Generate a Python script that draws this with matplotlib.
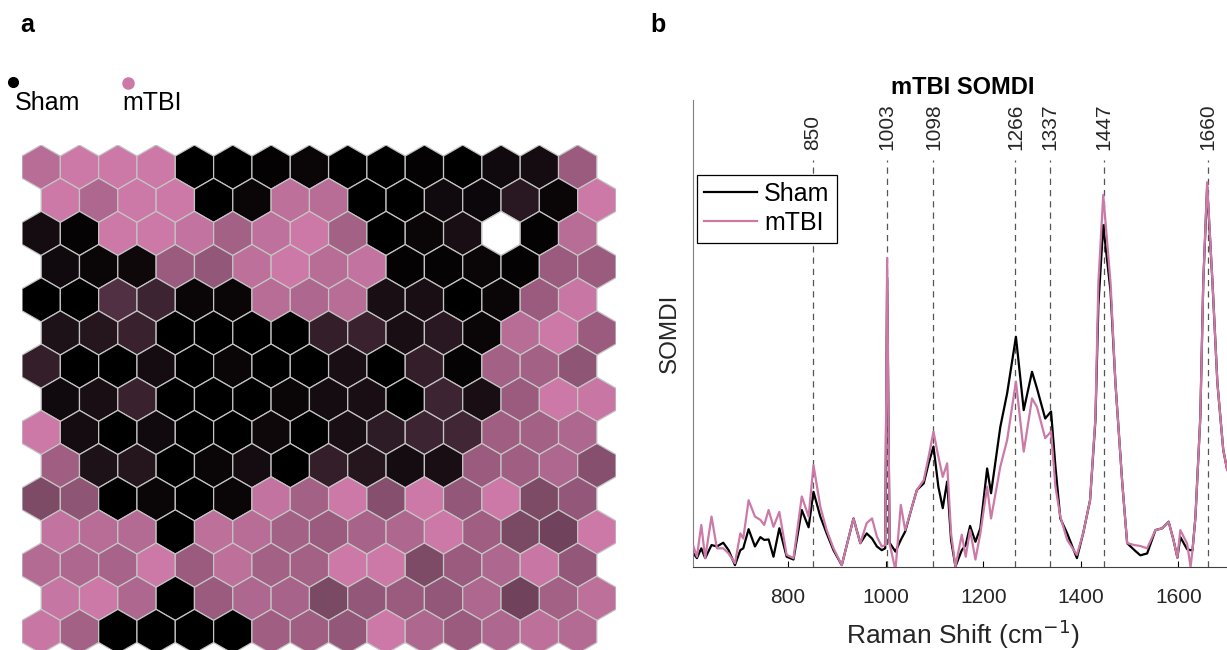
import numpy as np
import matplotlib
matplotlib.use("Agg")
import matplotlib.pyplot as plt
from matplotlib.colors import LinearSegmentedColormap
from matplotlib.patches import RegularPolygon

plt.rcParams['font.family'] = ['Liberation Sans', 'DejaVu Sans']

PINK = '#CC79A7'

# ---- SOM hex map: fraction of mTBI per node (0 = Sham/black, 1 = mTBI/pink)
nan = np.nan
som_rows = [
    [0.90, 1.00, 1.00, 1.00, 0.00, 0.00, 0.02, 0.05, 0.00, 0.00, 0.02, 0.00, 0.08, 0.10, 0.75],
    [1.00, 0.85, 1.00, 1.00, 0.00, 0.05, 0.92, 0.90, 0.00, 0.00, 0.08, 0.06, 0.20, 0.05, 1.00],
    [0.10, 0.03, 1.00, 1.00, 0.95, 0.80, 0.93, 1.00, 0.80, 0.00, 0.05, 0.12, nan, 0.02, 0.90],
    [0.08, 0.05, 0.07, 0.75, 0.72, 0.92, 1.00, 0.90, 0.95, 0.02, 0.03, 0.05, 0.02, 0.75, 0.75],
    [0.00, 0.00, 0.40, 0.30, 0.05, 0.05, 0.90, 0.85, 0.90, 0.12, 0.12, 0.00, 0.05, 0.75, 0.98],
    [0.15, 0.18, 0.28, 0.00, 0.00, 0.00, 0.00, 0.25, 0.28, 0.12, 0.20, 0.05, 0.90, 1.00, 0.75],
    [0.25, 0.00, 0.00, 0.10, 0.00, 0.05, 0.00, 0.00, 0.12, 0.00, 0.25, 0.03, 0.80, 0.80, 0.70],
    [0.08, 0.12, 0.28, 0.00, 0.00, 0.00, 0.05, 0.10, 0.12, 0.00, 0.30, 0.12, 0.75, 1.00, 0.98],
    [1.00, 0.10, 0.00, 0.08, 0.00, 0.00, 0.07, 0.00, 0.12, 0.22, 0.30, 0.32, 0.78, 0.80, 0.85],
    [0.78, 0.15, 0.18, 0.00, 0.05, 0.10, 0.00, 0.25, 0.18, 0.10, 0.12, 0.75, 0.78, 0.85, 0.65],
    [0.62, 0.70, 0.00, 0.05, 0.00, 0.05, 0.95, 0.80, 1.00, 0.65, 1.00, 0.72, 1.00, 0.62, 0.72],
    [0.95, 0.90, 0.88, 0.00, 0.92, 0.90, 0.80, 0.75, 0.82, 0.85, 1.00, 0.78, 0.60, 0.55, 1.00],
    [0.88, 0.85, 0.82, 1.00, 0.75, 0.92, 0.80, 0.80, 1.00, 1.00, 0.62, 0.75, 0.85, 0.98, 0.72],
    [0.97, 1.00, 0.85, 0.00, 0.75, 0.85, 0.82, 0.60, 0.72, 0.75, 0.72, 0.85, 0.55, 0.80, 0.92],
    [0.98, 0.80, 0.00, 0.00, 0.00, 0.00, 0.78, 0.78, 0.72, 1.00, 0.85, 0.75, 0.85, 0.92, 0.88],
]

# ---- SOMDI spectra
shift = [606, 613, 622, 630, 643, 654, 667, 678, 691, 702, 708, 719, 732, 743, 751,
         760, 770, 782, 797, 811, 828, 842, 852, 866, 879, 893, 910, 934, 948, 961,
         972, 982, 992, 999, 1003, 1008, 1020, 1031, 1040, 1054, 1064, 1078, 1088, 1098, 1108,
         1117, 1126, 1134, 1143, 1156, 1164, 1173, 1184, 1194, 1208, 1216, 1235, 1249, 1267, 1283,
         1300, 1310, 1327, 1339, 1348, 1358, 1372, 1392, 1405, 1419, 1430, 1436, 1446, 1461, 1471,
         1485, 1495, 1510, 1522, 1536, 1553, 1567, 1580, 1590, 1598, 1604, 1618, 1625, 1629, 1635,
         1645, 1651, 1659, 1670, 1680, 1692, 1700]
mtbi = [0.044, 0.022, 0.090, 0.019, 0.108, 0.040, 0.040, 0.029, 0.008, 0.072, 0.061, 0.143, 0.108, 0.101, 0.090,
        0.122, 0.086, 0.118, 0.026, 0.019, 0.151, 0.108, 0.218, 0.129, 0.079, 0.040, 0.004, 0.104, 0.051, 0.094,
        0.104, 0.065, 0.044, 0.047, 0.662, 0.050, -0.006, 0.133, 0.079, 0.129, 0.165, 0.186, 0.236, 0.290, 0.236,
        0.193, 0.222, 0.072, 0.001, 0.069, 0.022, 0.079, 0.016, 0.072, 0.172, 0.104, 0.215, 0.272, 0.397, 0.247,
        0.361, 0.343, 0.276, 0.290, 0.172, 0.108, 0.058, 0.026, 0.073, 0.143, 0.321, 0.608, 0.797, 0.608, 0.394,
        0.180, 0.051, 0.047, 0.045, 0.040, 0.079, 0.083, 0.097, 0.058, 0.020, 0.079, 0.050, 0.000, 0.036, 0.107,
        0.321, 0.608, 0.824, 0.608, 0.394, 0.251, 0.208]
sham = [0.029, 0.019, 0.040, 0.019, 0.047, 0.044, 0.052, 0.036, 0.004, 0.036, 0.040, 0.081, 0.044, 0.064, 0.058,
        0.059, 0.022, 0.083, 0.022, 0.016, 0.122, 0.085, 0.161, 0.108, 0.072, 0.036, 0.004, 0.104, 0.051, 0.072,
        0.061, 0.044, 0.036, 0.040, 0.620, 0.052, 0.033, 0.058, 0.076, 0.129, 0.165, 0.179, 0.222, 0.258, 0.172,
        0.126, 0.183, 0.058, 0.001, 0.036, 0.047, 0.088, 0.054, 0.083, 0.211, 0.158, 0.300, 0.372, 0.493, 0.336,
        0.418, 0.383, 0.318, 0.333, 0.215, 0.104, 0.072, 0.019, 0.073, 0.143, 0.315, 0.560, 0.732, 0.590, 0.394,
        0.180, 0.051, 0.036, 0.025, 0.029, 0.079, 0.083, 0.097, 0.058, 0.020, 0.064, 0.038, 0.036, 0.036, 0.107,
        0.321, 0.608, 0.815, 0.608, 0.394, 0.251, 0.208]
peaks = [850, 1003, 1098, 1266, 1337, 1447, 1660]

W, H = 1227, 650
fig = plt.figure(figsize=(W / 100, H / 100), dpi=100)

# ---------------- panel a: hex map
cmap = LinearSegmentedColormap.from_list('sham_mtbi', ['#000000', PINK])
ax = fig.add_axes([22 / W, 0, 594 / W, 505 / H])
r_hex = 1 / np.sqrt(3)
for r, row in enumerate(som_rows):
    for c, v in enumerate(row):
        cx = c + 0.5 * (r % 2)
        cy = r * np.sqrt(3) / 2
        face = 'white' if np.isnan(v) else cmap(v)
        ax.add_patch(RegularPolygon((cx, cy), 6, radius=r_hex, orientation=0,
                                    facecolor=face, edgecolor='#c4c4c4', linewidth=0.9))
ax.set_xlim(-0.5, 15.0)
ax.set_ylim(-r_hex + 505 / 38.3, -r_hex)
ax.axis('off')

fig.text(20 / W, 1 - 25 / H, 'a', fontsize=18, fontweight='bold', va='center')
fig.text(650 / W, 1 - 25 / H, 'b', fontsize=18, fontweight='bold', va='center')

# legend for the map
fig.lines.append(plt.Line2D([13 / W], [1 - 82 / H], marker='o', color='black',
                            markersize=7, transform=fig.transFigure))
fig.lines.append(plt.Line2D([128 / W], [1 - 83 / H], marker='o', color=PINK,
                            markersize=8, transform=fig.transFigure))
fig.text(15 / W, 1 - 103 / H, 'Sham', fontsize=18, va='center')
fig.text(122 / W, 1 - 103 / H, 'mTBI', fontsize=18, va='center')

# ---------------- panel b: SOMDI spectra
bx = fig.add_axes([693 / W, 83 / H, 540 / W, 467 / H])
for p in peaks:
    bx.plot([p, p], [0, 0.872], color='#555555', lw=0.9, ls=(0, (5, 4)), zorder=1)
    bx.text(p, 0.893, str(p), rotation=90, ha='center', va='bottom',
            fontsize=15, color='#262626')
bx.plot(shift, sham, color='black', lw=1.6, label='Sham', zorder=2)
bx.plot(shift, mtbi, color=PINK, lw=1.6, label='mTBI', zorder=3)
bx.set_xlim(605, 1712)
bx.set_ylim(0, 1)
bx.set_xticks([800, 1000, 1200, 1400, 1600])
bx.set_yticks([])
bx.tick_params(axis='x', direction='in', labelsize=15, labelcolor='#262626', length=4, pad=15)
for s in ['top', 'right']:
    bx.spines[s].set_visible(False)
bx.spines['left'].set_color('#808080')
bx.spines['bottom'].set_color('#404040')
bx.set_xlabel('Raman Shift (cm$^{-1}$)', fontsize=19, color='#262626', labelpad=8)
bx.set_ylabel('SOMDI', fontsize=17.5, color='#262626', labelpad=9)
bx.set_title('mTBI SOMDI', fontsize=17, fontweight='bold', pad=4)
leg = bx.legend(loc='upper left', bbox_to_anchor=(0.007, 0.84), borderaxespad=0,
                fontsize=18, fancybox=False, framealpha=1, edgecolor='black',
                handlelength=2.1, handletextpad=0.3, borderpad=0.3, labelspacing=0.2)
leg.get_frame().set_linewidth(0.9)

fig.savefig('out.png', dpi=100)
